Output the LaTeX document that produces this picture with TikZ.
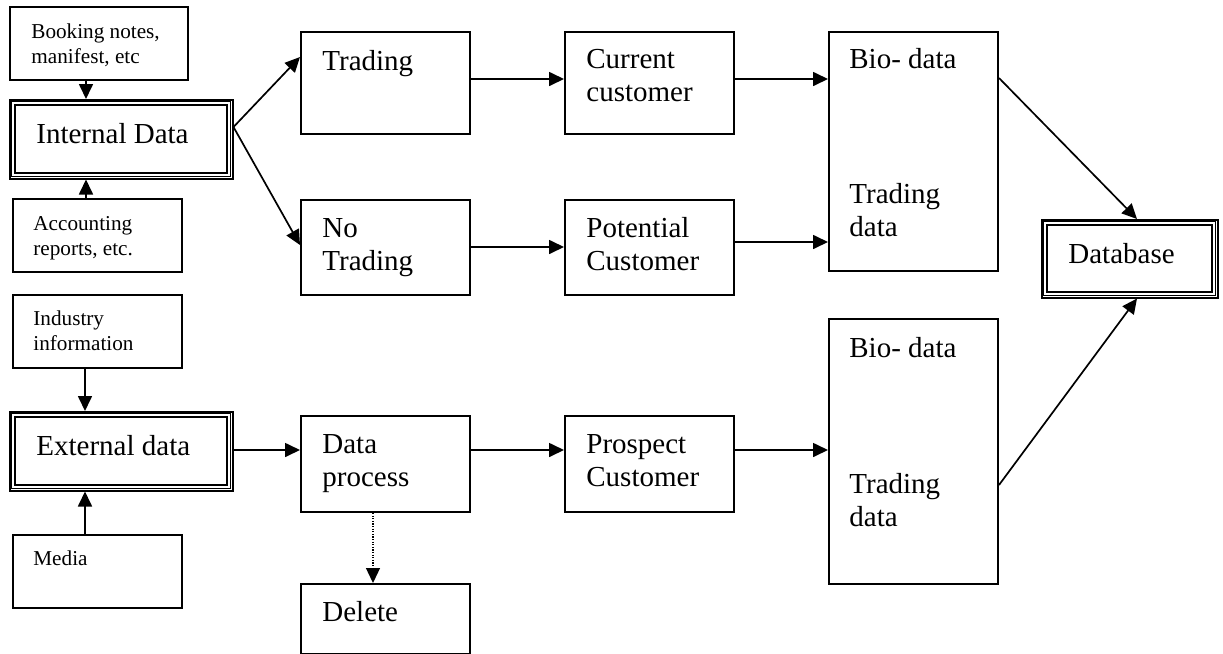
\documentclass[tikz,border=0pt]{standalone}
\usepackage{fontspec}
\setmainfont{Liberation Serif}
\usetikzlibrary{arrows.meta}
\newcommand\twoln[2]{\begin{tabular}[t]{@{}l@{}}#1\\#2\end{tabular}}
\tikzset{
  box/.style={draw, line width=1pt, inner sep=0pt, anchor=north west, minimum width=84.5pt},
  dbox/.style={draw, line width=0.75pt, inner sep=0pt, anchor=north west},
  big/.style={inner sep=0pt, anchor=base west, font=\fontsize{14.5}{16.5}\selectfont},
  small/.style={inner sep=0pt, anchor=base west, font=\fontsize{10.6}{12.5}\selectfont},
  arr/.style={line width=0.85pt, -{Triangle[length=7.5pt,width=7pt]}},
  dotarr/.style={line width=0.65pt, dash pattern=on 0.6pt off 0.7pt, -{Triangle[length=7.5pt,width=7pt]}}
}
\begin{document}
\begin{tikzpicture}[x=0.5pt, y=-0.5pt]
\useasboundingbox (0,0) rectangle (1223,654);

% left column
\node[box, minimum width=89pt, minimum height=36.5pt] (booking) at (9,6) {};
\node[dbox, minimum width=111.5pt, minimum height=39.5pt] (internal) at (9,99) {};
\node[box, minimum height=36.5pt] (accounting) at (12,198) {};
\node[box, minimum height=36.5pt] (industry) at (12,294) {};
\node[dbox, minimum width=111.5pt, minimum height=39.5pt] (external) at (9,411) {};
\node[box, minimum height=36.5pt] (media) at (12,534) {};

% inner lines of the framed boxes
\foreach \n in {internal, external} {
  \draw[line width=0.5pt] ([shift={(2.8,2.8)}]\n.north west) rectangle ([shift={(-2.8,-2.8)}]\n.south east);
  \draw[line width=1pt] ([shift={(6.3,6.3)}]\n.north west) rectangle ([shift={(-6.3,-6.3)}]\n.south east);
}

% middle columns
\node[box, minimum height=51pt] (trading) at (300,31) {};
\node[box, minimum height=47.5pt] (notrading) at (300,199) {};
\node[box, minimum height=48pt] (dataproc) at (300,415) {};
\node[box, minimum height=35pt] (delete) at (300,583) {};
\node[box, minimum height=51pt] (current) at (564,31) {};
\node[box, minimum height=47.5pt] (potential) at (564,199) {};
\node[box, minimum height=48pt] (prospect) at (564,415) {};
\node[box, minimum height=119.5pt] (bio1) at (828,31) {};
\node[box, minimum height=132.5pt] (bio2) at (828,318) {};
\node[dbox, minimum width=88pt, minimum height=39pt] (database) at (1041,219) {};
\draw[line width=0.5pt] ([shift={(2.8,2.8)}]database.north west) rectangle ([shift={(-2.8,-2.8)}]database.south east);
\draw[line width=1pt] ([shift={(6.3,6.3)}]database.north west) rectangle ([shift={(-6.3,-6.3)}]database.south east);

% texts
\node[small] (t-booking) at ([shift={(22,32)}]booking.north west) {\twoln{Booking notes,}{manifest, etc}};
\node[big] (t-internal) at ([shift={(27,44)}]internal.north west) {Internal Data};
\node[small] (t-accounting) at ([shift={(21,32)}]accounting.north west) {\twoln{Accounting}{reports, etc.}};
\node[small] (t-industry) at ([shift={(21,31)}]industry.north west) {\twoln{Industry}{information}};
\node[big] (t-external) at ([shift={(27,44)}]external.north west) {External data};
\node[small] (t-media) at ([shift={(21,31)}]media.north west) {Media};
\node[big] (t-trading) at ([shift={(22,39)}]trading.north west) {Trading};
\node[big] (t-notrading) at ([shift={(22,38)}]notrading.north west) {\twoln{No}{Trading}};
\node[big] (t-dataproc) at ([shift={(22,38)}]dataproc.north west) {\twoln{Data}{process}};
\node[big] (t-delete) at ([shift={(22,38)}]delete.north west) {Delete};
\node[big] (t-current) at ([shift={(22,37)}]current.north west) {\twoln{Current}{customer}};
\node[big] (t-potential) at ([shift={(22,38)}]potential.north west) {\twoln{Potential}{Customer}};
\node[big] (t-prospect) at ([shift={(22,38)}]prospect.north west) {\twoln{Prospect}{Customer}};
\node[big] (t-bio1a) at ([shift={(21,37)}]bio1.north west) {Bio- data};
\node[big] (t-bio1b) at ([shift={(21,172)}]bio1.north west) {\twoln{Trading}{data}};
\node[big] (t-bio2a) at ([shift={(21,39)}]bio2.north west) {Bio- data};
\node[big] (t-bio2b) at ([shift={(21,175)}]bio2.north west) {\twoln{Trading}{data}};
\node[big] (t-database) at ([shift={(27,44)}]database.north west) {Database};

% guide coordinates
\coordinate (c86) at (86,0);
\coordinate (c85) at (85,0);
\coordinate (c373) at (373,0);
\coordinate (c1137) at (1137,0);
\coordinate (r57) at (0,57);
\coordinate (r78) at (0,78);
\coordinate (r79) at (0,79);
\coordinate (r127) at (0,127);
\coordinate (r242) at (0,242);
\coordinate (r245) at (0,245);
\coordinate (r247) at (0,247);
\coordinate (r450) at (0,450);
\coordinate (r485) at (0,485);

% connectors
\draw[arr] (booking.south -| c86) -- (internal.north -| c86);
\draw[arr] (accounting.north -| c86) -- (internal.south -| c86);
\draw[arr] (industry.south -| c85) -- (external.north -| c85);
\draw[arr] (media.north -| c85) -- (external.south -| c85);
\draw[arr] (internal.east |- r127) -- (trading.west |- r57);
\draw[arr] (internal.east |- r127) -- (notrading.west |- r245);
\draw[arr] (external.east |- r450) -- (dataproc.west |- r450);
\draw[arr] (trading.east |- r79) -- (current.west |- r79);
\draw[arr] (notrading.east |- r247) -- (potential.west |- r247);
\draw[arr] (dataproc.east |- r450) -- (prospect.west |- r450);
\draw[dotarr] (dataproc.south -| c373) -- (delete.north -| c373);
\draw[arr] (current.east |- r79) -- (bio1.west |- r79);
\draw[arr] (potential.east |- r242) -- (bio1.west |- r242);
\draw[arr] (prospect.east |- r450) -- (bio2.west |- r450);
\draw[arr] (bio1.east |- r78) -- (database.north -| c1137);
\draw[arr] (bio2.east |- r485) -- (database.south -| c1137);
\end{tikzpicture}
\end{document}
